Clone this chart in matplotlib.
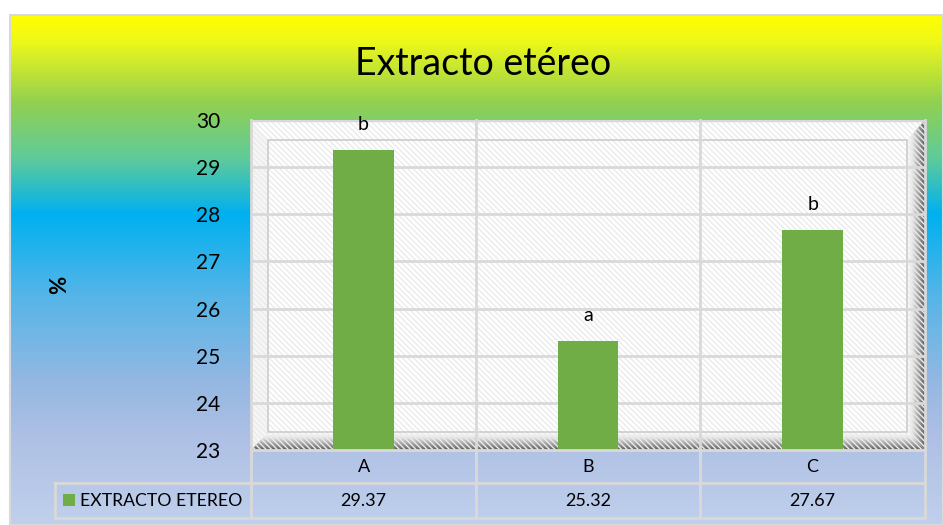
import matplotlib.pyplot as plt
import numpy as np
from matplotlib.colors import LinearSegmentedColormap
from matplotlib.lines import Line2D
from matplotlib.patches import Polygon, Rectangle

categories = ["A", "B", "C"]
values = [29.37, 25.32, 27.67]
letters = ["b", "a", "b"]
series_name = "EXTRACTO ETEREO"
y_ticks = [23, 24, 25, 26, 27, 28, 29, 30]

W, H = 943, 525
FONT = "Lato"
BAR = "#70ad47"
GRID = "#d9d9d9"


def fx(px):
    return px / W


def fy(py):
    return 1 - py / H


fig = plt.figure(figsize=(W / 100, H / 100), dpi=100)
fig.patch.set_facecolor("white")

# gradient background of the chart area
bg = fig.add_axes((fx(10), 0, 1 - fx(10), fy(15)))
bg_cmap = LinearSegmentedColormap.from_list(
    "bg",
    [
        (0.00, "#ffff00"),
        (0.05, "#eef81a"),
        (0.17, "#92d050"),
        (0.28, "#5fcb9a"),
        (0.39, "#00b0f0"),
        (0.55, "#55b5e8"),
        (0.72, "#94b8e2"),
        (0.82, "#adbfe4"),
        (1.00, "#c0d0ec"),
    ],
)
bg.imshow(np.linspace(0, 1, 256).reshape(-1, 1), cmap=bg_cmap, aspect="auto",
          extent=(0, 1, 0, 1))
bg.set_axis_off()
fig.add_artist(Rectangle((fx(10), 0), 1 - fx(10), fy(15), transform=fig.transFigure,
                         fill=False, edgecolor="#d9d9d9", linewidth=1.5))

fig.text(fx(483), fy(64), "Extracto etéreo", ha="center", va="center",
         fontsize=27, family=FONT)
fig.text(fx(60), fy(285), "%", ha="center", va="center", rotation=90,
         fontsize=16, family=FONT, fontweight="bold")

# plot area
x0, x1, y0, y1 = 251, 925, 120, 450
ax = fig.add_axes((fx(x0), fy(y1), fx(x1) - fx(x0), fy(y0) - fy(y1)))
ax.set_xlim(0, 3)
ax.set_ylim(23, 30)
ax.patch.set_visible(False)
for s in ax.spines.values():
    s.set_visible(False)

# 3-D wall: back face, bevels with shadow
ix0, ix1, iy0, iy1 = 17 / 674, 656 / 674, 18 / 330, 310 / 330
hatch_kw = dict(hatch="\\\\\\\\\\\\", edgecolor="#ebebeb", linewidth=0,
                transform=ax.transAxes)
ax.add_patch(Rectangle((0, 0), 1, 1, facecolor="white", zorder=0, **hatch_kw))

grad_h = np.linspace(0, 1, 64).reshape(1, -1)
shade = LinearSegmentedColormap.from_list(
    "shade", [(0, "#ffffff"), (0.3, "#e6e6e6"), (0.7, "#9a9a9a"), (1, "#5c5c5c")])
right = Polygon([(ix1, iy0), (1, 0), (1, 1), (ix1, iy1)], closed=True,
                transform=ax.transAxes, facecolor="none", edgecolor="none")
ax.add_patch(right)
im = ax.imshow(grad_h, cmap=shade, aspect="auto", extent=(ix1 * 3, 3, 23, 30),
               zorder=0.5)
im.set_clip_path(right)
bottom = Polygon([(0, 0), (1, 0), (ix1, iy0), (ix0, iy0)], closed=True,
                 transform=ax.transAxes, facecolor="none", edgecolor="none")
ax.add_patch(bottom)
im2 = ax.imshow(grad_h.T, cmap=shade, aspect="auto",
                extent=(0, 3, 23, 23 + iy0 * 7), origin="upper", zorder=0.5)
im2.set_clip_path(bottom)
left = Polygon([(0, 0), (ix0, iy0), (ix0, iy1), (0, 1)], closed=True,
               facecolor="#f6f6f6", zorder=0.5, **hatch_kw)
ax.add_patch(left)
for poly in (right, bottom):
    ax.add_patch(Polygon(poly.get_xy(), closed=True, facecolor="none", zorder=0.6,
                         **hatch_kw))

ax.add_patch(Rectangle((ix0, iy0), ix1 - ix0, iy1 - iy0, fill=False,
                       edgecolor="#cccccc", linewidth=1.2, transform=ax.transAxes,
                       zorder=0.7))

for t in y_ticks[1:-1]:
    ax.axhline(t, color=GRID, linewidth=2, zorder=0.8)
ax.axhline(30, color=GRID, linewidth=2.5, zorder=0.8)

x = np.arange(len(categories)) + 0.5
ax.bar(x, [v - 23 for v in values], bottom=23, width=0.27, color=BAR, zorder=2)
for xi, v, lab in zip(x, values, letters):
    ax.annotate(lab, (xi, v), xytext=(0, 18), textcoords="offset points",
                ha="center", va="center", fontsize=14, family=FONT)

ax.set_yticks(y_ticks)
ax.set_yticklabels([str(t) for t in y_ticks], fontsize=15, family=FONT)
ax.tick_params(axis="y", length=0, pad=22)
ax.set_xticks([])

# data table under the plot
col_x = [251, 476, 700, 925]


def hline(xa, xb, y):
    fig.add_artist(Line2D([fx(xa), fx(xb)], [fy(y), fy(y)], color=GRID,
                          linewidth=2, transform=fig.transFigure))


def vline(x_, ya, yb):
    fig.add_artist(Line2D([fx(x_), fx(x_)], [fy(ya), fy(yb)], color=GRID,
                          linewidth=2, transform=fig.transFigure))


hline(251, 925, 450)
hline(55, 925, 483)
hline(55, 925, 518)
for cx in col_x:
    vline(cx, 120, 518)
vline(55, 483, 518)

for i, (cat, v) in enumerate(zip(categories, values)):
    cx = (col_x[i] + col_x[i + 1]) / 2
    fig.text(fx(cx), fy(467), cat, ha="center", va="center", fontsize=13, family=FONT)
    fig.text(fx(cx), fy(501), f"{v:.2f}", ha="center", va="center", fontsize=13,
             family=FONT)

fig.add_artist(Rectangle((fx(63), fy(506)), fx(12), fy(494) - fy(506),
                         transform=fig.transFigure, facecolor=BAR, edgecolor="none"))
fig.text(fx(80), fy(501), series_name, ha="left", va="center", fontsize=12.7,
         family=FONT)

fig.savefig("out.png", dpi=100)
